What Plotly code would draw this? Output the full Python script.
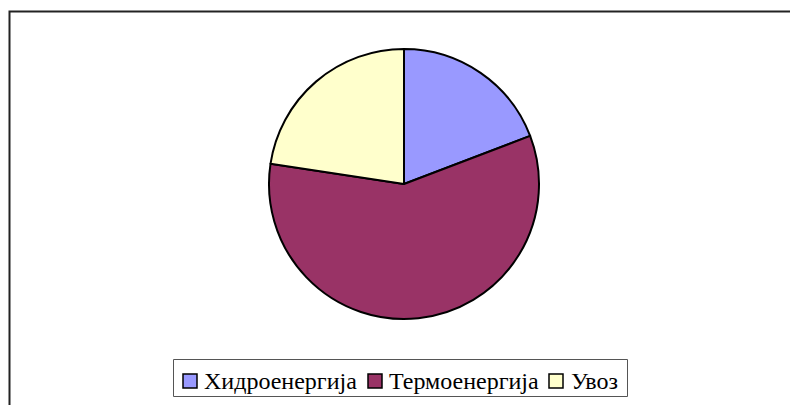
import plotly.graph_objects as go

labels = ["Хидроенергија", "Термоенергија", "Увоз"]
values = [19.2, 58.2, 22.6]
colors = ["#9999FF", "#993366", "#FFFFCC"]

W, H = 790, 405
cx, cy, r = 404, 184, 135

def px(x):
    return x / W

def py(y):
    return (H - y) / H

fig = go.Figure(go.Pie(
    labels=labels, values=values, sort=False, direction="clockwise", rotation=0,
    marker=dict(colors=colors, line=dict(color="black", width=2)),
    textinfo="none", hoverinfo="label+percent",
    domain=dict(x=[px(cx - r), px(cx + r)], y=[py(cy + r), py(cy - r)]),
    showlegend=False,
))

# manual legend (positions of legend items)
sq_x = [183, 368, 549]
txt_x = [203, 388, 570]
shapes = [dict(type="rect", xref="paper", yref="paper",
               x0=px(9.5), x1=1.05, y0=-0.05, y1=py(11.5),
               line=dict(color="#222", width=2)),
          dict(type="rect", xref="paper", yref="paper",
               x0=px(173.5), x1=px(627.5), y0=py(396.5), y1=py(359.5),
               line=dict(color="#555", width=1), fillcolor="white", layer="below")]
annotations = []
for lab, col, sx, tx in zip(labels, colors, sq_x, txt_x):
    shapes.append(dict(type="rect", xref="paper", yref="paper",
                       x0=px(sx), x1=px(sx + 14), y0=py(388), y1=py(374),
                       line=dict(color="black", width=1.5), fillcolor=col))
    annotations.append(dict(text=lab, xref="paper", yref="paper", x=px(tx), y=py(381),
                            xanchor="left", yanchor="middle", showarrow=False,
                            xshift=-1,
                            font=dict(family="Liberation Serif", size=24, color="black")))

fig.update_layout(
    width=W, height=H, margin=dict(l=0, r=0, t=0, b=0),
    paper_bgcolor="white", plot_bgcolor="white",
    shapes=shapes, annotations=annotations,
)

fig.write_html("out.html", config={"displayModeBar": False},
               post_script="document.body.style.margin='0';")
